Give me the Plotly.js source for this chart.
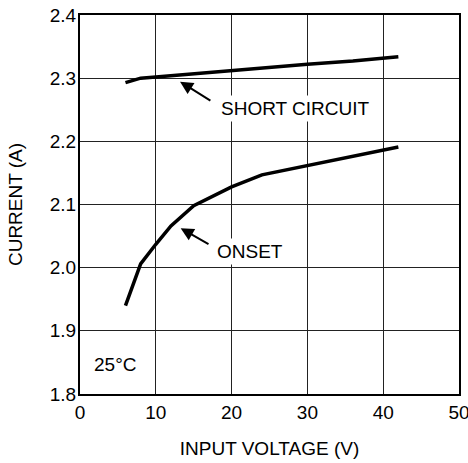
<!DOCTYPE html>
<html>
<head>
<meta charset="utf-8">
<script src="https://cdn.plot.ly/plotly-3.0.1.min.js"></script>
<style>html,body{margin:0;padding:0;background:#fff;}#chart{width:468px;height:463px;}</style>
</head>
<body>
<div id="chart"></div>
<script>
const voltage = [6, 8, 10, 12, 15, 20, 24, 30, 36, 42];
const shortCircuit = [2.293, 2.300, 2.302, 2.304, 2.308, 2.312, 2.317, 2.322, 2.327, 2.334];
const onset = [1.940, 2.006, 2.037, 2.066, 2.098, 2.128, 2.147, 2.162, 2.176, 2.191];
const xTicks = [0, 10, 20, 30, 40, 50];
const yTicks = [1.8, 1.9, 2.0, 2.1, 2.2, 2.3, 2.4];
const yTickText = ['1.8', '1.9', '2.0', '2.1', '2.2', '2.3', '2.4'];

const font = {family: 'Liberation Sans, Arial, sans-serif', size: 19, color: '#000'};
const lineStyle = {color: '#000', width: 3.5};

const traces = [
  {x: voltage, y: shortCircuit, mode: 'lines', line: lineStyle, name: 'SHORT CIRCUIT', hoverinfo: 'skip'},
  {x: voltage, y: onset, mode: 'lines', line: lineStyle, name: 'ONSET', hoverinfo: 'skip'}
];

const arrowBase = {text: '', showarrow: true, axref: 'x', ayref: 'y', arrowhead: 2, arrowsize: 1.3, arrowwidth: 2, arrowcolor: '#000', standoff: 0, startstandoff: 0};

const layout = {
  width: 468, height: 463,
  margin: {l: 80, r: 9, t: 15, b: 69},
  paper_bgcolor: '#fff', plot_bgcolor: '#fff',
  showlegend: false,
  font: font,
  xaxis: {
    range: [0, 50], tickvals: xTicks, ticks: '', showgrid: true, gridcolor: '#222', gridwidth: 1,
    showline: true, linecolor: '#000', linewidth: 2, mirror: true, zeroline: false,
    ticklabeloverflow: 'allow',
    tickfont: font, title: {text: 'INPUT VOLTAGE (V)', font: font, standoff: 20}, fixedrange: true
  },
  yaxis: {
    range: [1.8, 2.4], tickvals: yTicks, ticktext: yTickText, ticks: '', showgrid: true, gridcolor: '#222', gridwidth: 1,
    showline: true, linecolor: '#000', linewidth: 2, mirror: true, zeroline: false,
    ticklabelstandoff: -2,
    tickfont: font, title: {text: 'CURRENT (A)', font: font, standoff: 22}, fixedrange: true
  },
  annotations: [
    Object.assign({}, arrowBase, {x: 13.2, y: 2.2945, ax: 17.4, ay: 2.2628}),
    Object.assign({}, arrowBase, {x: 13.28, y: 2.0625, ax: 17.15, ay: 2.036}),
    {x: 18.2, y: 2.2524, xanchor: 'left', yanchor: 'middle', text: 'SHORT CIRCUIT', showarrow: false, bgcolor: '#fff', font: font, borderpad: 2},
    {x: 17.65, y: 2.0255, xanchor: 'left', yanchor: 'middle', text: 'ONSET', showarrow: false, bgcolor: '#fff', font: font, borderpad: 2},
    {x: 1.55, y: 1.8462, xanchor: 'left', yanchor: 'middle', text: '25°C', showarrow: false, font: font}
  ]
};

Plotly.newPlot('chart', traces, layout, {staticPlot: true, displayModeBar: false});
</script>
</body>
</html>
